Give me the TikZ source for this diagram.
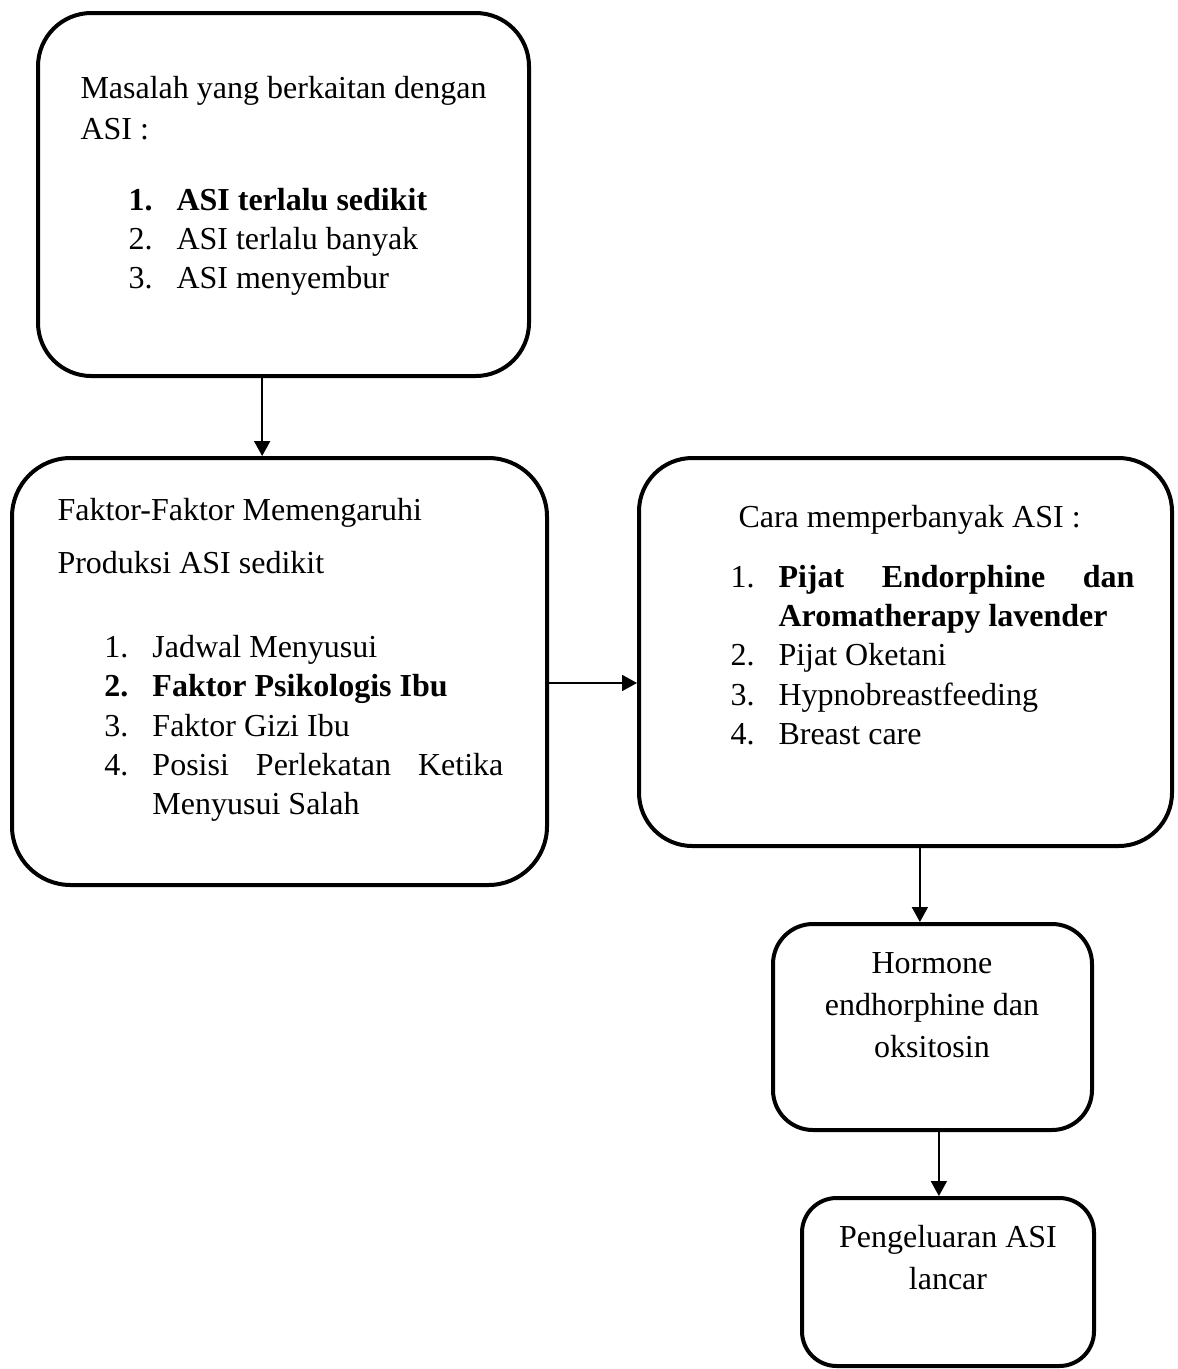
\documentclass[tikz,border=0pt]{standalone}
\usepackage{fontspec}
\setmainfont{Liberation Serif}
\usetikzlibrary{arrows.meta,fit}

\newcommand{\numitem}[2]{\makebox[18pt][l]{#1}#2}

\begin{document}
\begin{tikzpicture}[x=0.375pt,y=-0.375pt,
    box/.style={draw,line width=1.5pt,rounded corners=20pt,inner sep=0pt},
    txt/.style={inner sep=0pt,font=\fontsize{12}{14.8}\selectfont},
    arr/.style={line width=0.6pt,-{Triangle[length=5.6pt,width=6pt]}}]
    \useasboundingbox (0,0) rectangle (1177,1369);

    % Boxes
    \node[box,fit={(38,13) (529,376)}] (masalah) {};
    \node[box,rounded corners=22pt,fit={(12,458) (547,885)}] (faktor) {};
    \node[box,fit={(639,458) (1172,846)}] (cara) {};
    \node[box,rounded corners=15pt,fit={(773,924) (1092,1130)}] (hormon) {};
    \node[box,rounded corners=13pt,fit={(802,1198) (1094,1366)}] (keluar) {};

    % Texts
    \node[txt,anchor=base west] (masalah-txt) at (80,98) {\parbox[t]{190pt}{%
        Masalah yang berkaitan dengan\\[0.6pt]
        ASI :\\[11.8pt]
        \hspace*{18pt}\numitem{\textbf{1.}}{\textbf{ASI terlalu sedikit}}\\
        \hspace*{18pt}\numitem{2.}{ASI terlalu banyak}\\
        \hspace*{18pt}\numitem{3.}{ASI menyembur}}};
    \node[txt,anchor=base west] (faktor-txt) at (57,520) {\parbox[t]{190pt}{%
        Faktor-Faktor Memengaruhi\\[5.1pt]
        Produksi ASI sedikit\\[16.7pt]
        \hspace*{17.6pt}\numitem{1.}{Jadwal Menyusui}\\
        \hspace*{17.6pt}\numitem{\textbf{2.}}{\textbf{Faktor Psikologis Ibu}}\\
        \hspace*{17.6pt}\numitem{3.}{Faktor Gizi Ibu}\\
        \hspace*{17.6pt}\numitem{4.}{\makebox[131.6pt][s]{Posisi\hfill Perlekatan\hfill Ketika}}\\
        \hspace*{35.6pt}Menyusui Salah}};
    \node[txt,anchor=base west] (cara-txt) at (730,527) {\parbox[t]{190pt}{%
        \hspace*{3pt}Cara memperbanyak ASI :\\[7.7pt]
        \numitem{1.}{\makebox[133.5pt][s]{\textbf{Pijat\hfill Endorphine\hfill dan}}}\\
        \hspace*{18pt}\textbf{Aromatherapy lavender}\\
        \numitem{2.}{Pijat Oketani}\\
        \numitem{3.}{Hypnobreastfeeding}\\
        \numitem{4.}{Breast care}}};
    \node[txt,anchor=base] (hormon-txt) at (932,973) {\parbox[t]{110pt}{\centering
        Hormone\\[1pt] endhorphine dan\\[1pt] oksitosin}};
    \node[txt,anchor=base] (keluar-txt) at (948,1247) {\parbox[t]{110pt}{\centering
        Pengeluaran ASI\\[1.3pt] lancar}};

    % Arrows
    \draw[arr] ([xshift=-8pt]masalah.south) -- ([xshift=-8pt]masalah.south |- faktor.north);
    \draw[arr] ([yshift=-4.3pt]faktor.east) -- ([yshift=-4.3pt]faktor.east -| cara.west);
    \draw[arr] ([xshift=5.4pt]cara.south) -- ([xshift=5.4pt]cara.south |- hormon.north);
    \draw[arr] ([xshift=2.4pt]hormon.south) -- ([xshift=2.4pt]hormon.south |- keluar.north);
\end{tikzpicture}
\end{document}
